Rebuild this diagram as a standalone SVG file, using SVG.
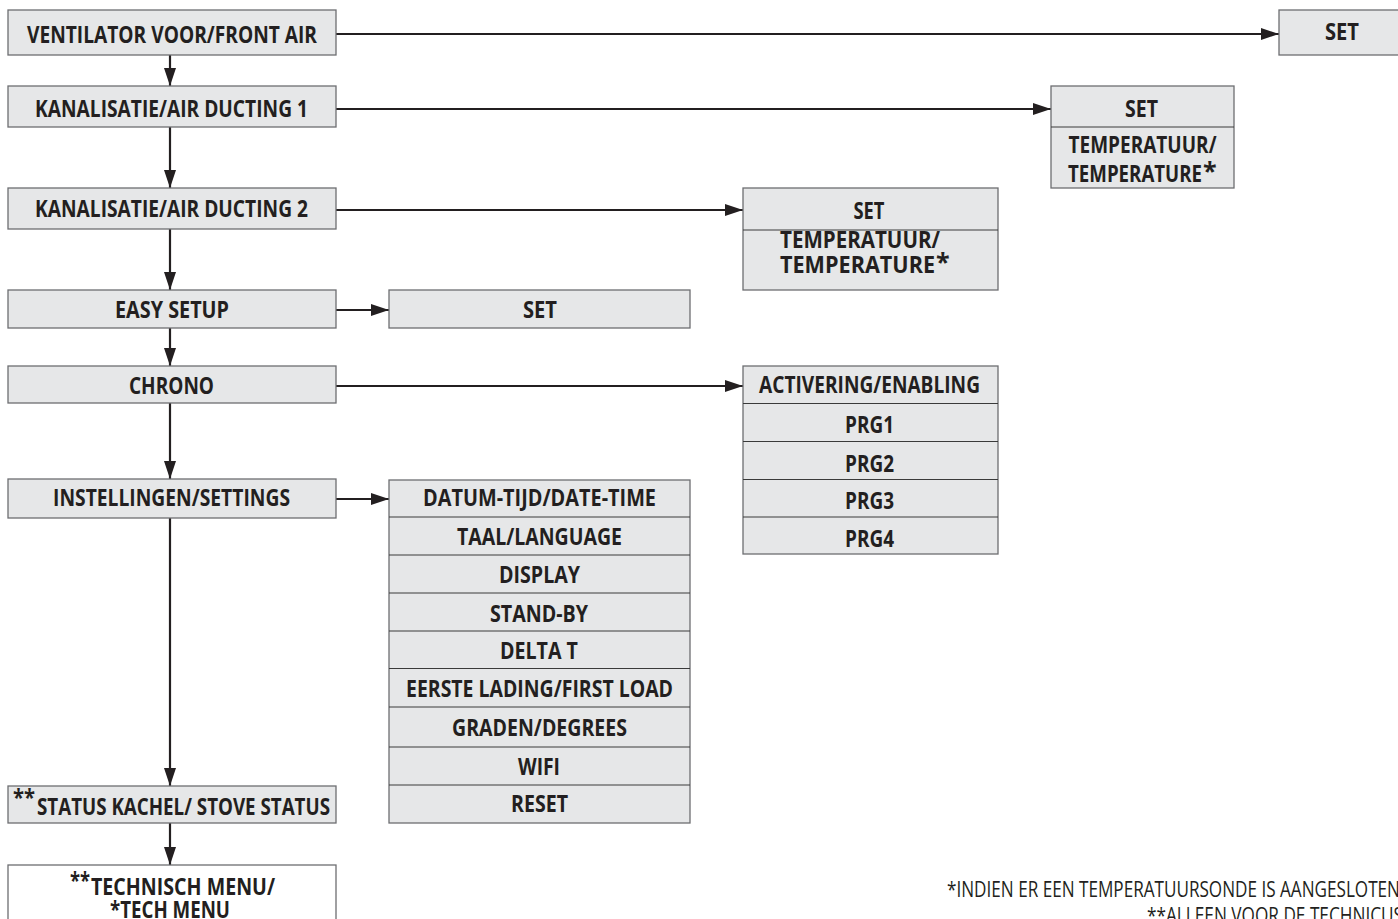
<svg xmlns="http://www.w3.org/2000/svg" width="1398" height="919" viewBox="0 0 1398 919">
<style>
.box{fill:#e6e7e8;stroke:#6d6e71;stroke-width:1.3}
.wbox{fill:#ffffff;stroke:#6d6e71;stroke-width:1.3}
.div{stroke:#3a3a3a;stroke-width:1}
.t{font-family:"Open Sans","Liberation Sans",sans-serif;font-weight:700;font-size:22.5px;fill:#231f20}
.m{text-anchor:middle}
.fn{font-family:"Open Sans","Liberation Sans",sans-serif;font-weight:400;font-size:21px;fill:#231f20}
.c{fill:none;stroke:#231f20;stroke-width:2.2}
</style>
<defs>
<marker id="ah" markerUnits="userSpaceOnUse" markerWidth="18" markerHeight="12" refX="18" refY="6" orient="auto">
<path d="M0,0 L18,6 L0,12 z" fill="#231f20"/>
</marker>
</defs>
<rect width="1398" height="919" fill="#ffffff"/>
<g id="connectors">
<line class="c" x1="170" y1="55" x2="170" y2="86" marker-end="url(#ah)"/>
<line class="c" x1="170" y1="127" x2="170" y2="188" marker-end="url(#ah)"/>
<line class="c" x1="170" y1="229" x2="170" y2="290" marker-end="url(#ah)"/>
<line class="c" x1="170" y1="328" x2="170" y2="366" marker-end="url(#ah)"/>
<line class="c" x1="170" y1="403" x2="170" y2="479" marker-end="url(#ah)"/>
<line class="c" x1="170" y1="518" x2="170" y2="786" marker-end="url(#ah)"/>
<line class="c" x1="170" y1="823" x2="170" y2="865" marker-end="url(#ah)"/>
<line class="c" x1="336" y1="34" x2="1279" y2="34" marker-end="url(#ah)"/>
<line class="c" x1="336" y1="109" x2="1051" y2="109" marker-end="url(#ah)"/>
<line class="c" x1="336" y1="210" x2="743" y2="210" marker-end="url(#ah)"/>
<line class="c" x1="336" y1="310" x2="389" y2="310" marker-end="url(#ah)"/>
<line class="c" x1="336" y1="386" x2="743" y2="386" marker-end="url(#ah)"/>
<line class="c" x1="336" y1="499" x2="389" y2="499" marker-end="url(#ah)"/>
</g>
<g id="n-front-air">
<rect class="box" x="8" y="10" width="328" height="45"/>
<text class="t m" x="172" y="43" textLength="290" lengthAdjust="spacingAndGlyphs">VENTILATOR VOOR/FRONT AIR</text>
</g>
<g id="n-ducting1">
<rect class="box" x="8" y="86" width="328" height="41"/>
<text class="t m" x="171.5" y="116.5" textLength="273" lengthAdjust="spacingAndGlyphs">KANALISATIE/AIR DUCTING 1</text>
</g>
<g id="n-ducting2">
<rect class="box" x="8" y="188" width="328" height="41"/>
<text class="t m" x="171.5" y="217" textLength="273" lengthAdjust="spacingAndGlyphs">KANALISATIE/AIR DUCTING 2</text>
</g>
<g id="n-easy-setup">
<rect class="box" x="8" y="290" width="328" height="38"/>
<text class="t m" x="172" y="318" textLength="114" lengthAdjust="spacingAndGlyphs">EASY SETUP</text>
</g>
<g id="n-chrono">
<rect class="box" x="8" y="366" width="328" height="37"/>
<text class="t m" x="171.5" y="394" textLength="85" lengthAdjust="spacingAndGlyphs">CHRONO</text>
</g>
<g id="n-settings">
<rect class="box" x="8" y="479" width="328" height="39"/>
<text class="t m" x="171.5" y="506" textLength="237" lengthAdjust="spacingAndGlyphs">INSTELLINGEN/SETTINGS</text>
</g>
<g id="n-stove-status">
<rect class="box" x="8" y="786" width="328" height="37"/>
<text class="t" x="13" y="806" textLength="22" lengthAdjust="spacingAndGlyphs">**</text>
<text class="t" x="37" y="815" textLength="293" lengthAdjust="spacingAndGlyphs">STATUS KACHEL/ STOVE STATUS</text>
</g>
<g id="n-tech-menu">
<rect class="wbox" x="8" y="865" width="328" height="70"/>
<text class="t" x="70" y="889" textLength="20" lengthAdjust="spacingAndGlyphs">**</text>
<text class="t" x="91" y="895" textLength="184" lengthAdjust="spacingAndGlyphs">TECHNISCH MENU/</text>
<text class="t m" x="170" y="918" textLength="120" lengthAdjust="spacingAndGlyphs">*TECH MENU</text>
</g>
<g id="n-set-front">
<rect class="box" x="1279" y="10" width="130" height="45"/>
<text class="t m" x="1342" y="40" textLength="34" lengthAdjust="spacingAndGlyphs">SET</text>
</g>
<g id="n-ducting1-menu">
<rect class="box" x="1051" y="86" width="183" height="102"/>
<line class="div" x1="1051" y1="127" x2="1234" y2="127"/>
<text class="t m" x="1141.5" y="116.5" textLength="33" lengthAdjust="spacingAndGlyphs">SET</text>
<text class="t m" x="1142.5" y="153" textLength="148" lengthAdjust="spacingAndGlyphs">TEMPERATUUR/</text>
<text class="t" x="1068" y="181.5" textLength="134" lengthAdjust="spacingAndGlyphs">TEMPERATURE</text>
<text class="t" x="1203" y="180" style="font-size:25px">*</text>
</g>
<g id="n-ducting2-menu">
<rect class="box" x="743" y="188" width="255" height="102"/>
<line class="div" x1="743" y1="230" x2="998" y2="230"/>
<text class="t m" x="869" y="219" textLength="31" lengthAdjust="spacingAndGlyphs">SET</text>
<text class="t m" x="860" y="248" textLength="160" lengthAdjust="spacingAndGlyphs">TEMPERATUUR/</text>
<text class="t" x="780" y="273" textLength="155" lengthAdjust="spacingAndGlyphs">TEMPERATURE</text>
<text class="t" x="936" y="271" style="font-size:25px">*</text>
</g>
<g id="n-easy-set">
<rect class="box" x="389" y="290" width="301" height="38"/>
<text class="t m" x="540" y="318" textLength="34" lengthAdjust="spacingAndGlyphs">SET</text>
</g>
<g id="n-chrono-menu">
<rect class="box" x="743" y="366" width="255" height="188"/>
<line class="div" x1="743" y1="403.5" x2="998" y2="403.5"/>
<line class="div" x1="743" y1="441.5" x2="998" y2="441.5"/>
<line class="div" x1="743" y1="479.5" x2="998" y2="479.5"/>
<line class="div" x1="743" y1="517" x2="998" y2="517"/>
<text class="t m" x="869.5" y="393" textLength="221" lengthAdjust="spacingAndGlyphs">ACTIVERING/ENABLING</text>
<text class="t m" x="869.5" y="433" textLength="49" lengthAdjust="spacingAndGlyphs">PRG1</text>
<text class="t m" x="869.5" y="471.5" textLength="49" lengthAdjust="spacingAndGlyphs">PRG2</text>
<text class="t m" x="869.5" y="509" textLength="49" lengthAdjust="spacingAndGlyphs">PRG3</text>
<text class="t m" x="869.5" y="546.5" textLength="49" lengthAdjust="spacingAndGlyphs">PRG4</text>
</g>
<g id="n-settings-menu">
<rect class="box" x="389" y="480" width="301" height="343"/>
<line class="div" x1="389" y1="517" x2="690" y2="517"/>
<line class="div" x1="389" y1="555" x2="690" y2="555"/>
<line class="div" x1="389" y1="593" x2="690" y2="593"/>
<line class="div" x1="389" y1="631" x2="690" y2="631"/>
<line class="div" x1="389" y1="668.5" x2="690" y2="668.5"/>
<line class="div" x1="389" y1="707" x2="690" y2="707"/>
<line class="div" x1="389" y1="747" x2="690" y2="747"/>
<line class="div" x1="389" y1="785" x2="690" y2="785"/>
<text class="t m" x="539.5" y="505.5" textLength="233" lengthAdjust="spacingAndGlyphs">DATUM-TIJD/DATE-TIME</text>
<text class="t m" x="539.5" y="545" textLength="165" lengthAdjust="spacingAndGlyphs">TAAL/LANGUAGE</text>
<text class="t m" x="539.5" y="583" textLength="81" lengthAdjust="spacingAndGlyphs">DISPLAY</text>
<text class="t m" x="539" y="621.5" textLength="98" lengthAdjust="spacingAndGlyphs">STAND-BY</text>
<text class="t m" x="539" y="658.5" textLength="78" lengthAdjust="spacingAndGlyphs">DELTA T</text>
<text class="t m" x="539.5" y="696.5" textLength="267" lengthAdjust="spacingAndGlyphs">EERSTE LADING/FIRST LOAD</text>
<text class="t m" x="539.5" y="736" textLength="175" lengthAdjust="spacingAndGlyphs">GRADEN/DEGREES</text>
<text class="t m" x="539" y="775" textLength="42" lengthAdjust="spacingAndGlyphs">WIFI</text>
<text class="t m" x="539.5" y="811.5" textLength="57" lengthAdjust="spacingAndGlyphs">RESET</text>
</g>
<g id="footnotes">
<text class="fn" x="947" y="897" textLength="453" lengthAdjust="spacingAndGlyphs">*INDIEN ER EEN TEMPERATUURSONDE IS AANGESLOTEN</text>
<text class="fn" x="1147" y="923" textLength="256" lengthAdjust="spacingAndGlyphs">**ALLEEN VOOR DE TECHNICUS</text>
</g>
</svg>
